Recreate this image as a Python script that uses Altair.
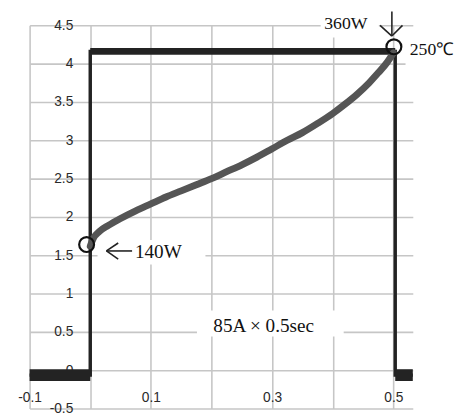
import altair as alt
import pandas as pd

# ---- data ----
# black step trace
step_x = [-0.1, 0.0, 0.0, 0.503, 0.503, 0.532]
step_y = [-0.064, -0.064, 4.16, 4.16, -0.064, -0.064]

# noisy plateaus of the black trace (drawn thicker)
low_x = [-0.1, 0.503]
low_x2 = [0.0, 0.532]
low_y = [-0.064, -0.064]
top_x = [0.0]
top_x2 = [0.503]
top_y = [4.16]

# gray curve
curve_x = [0.0, 0.005, 0.015, 0.03, 0.05, 0.075, 0.1, 0.125, 0.15, 0.175, 0.2,
           0.225, 0.25, 0.275, 0.3, 0.325, 0.35, 0.375, 0.4, 0.42, 0.44, 0.46,
           0.475, 0.49, 0.5]
curve_y = [1.62, 1.72, 1.81, 1.89, 1.98, 2.08, 2.17, 2.26, 2.34, 2.42, 2.50,
           2.59, 2.68, 2.78, 2.89, 3.00, 3.10, 3.22, 3.35, 3.47, 3.60, 3.75,
           3.88, 4.02, 4.14]

# annotation circles
circ_x = [-0.006, 0.5008]
circ_y = [1.64, 4.22]

# annotation texts (upper labels / lower labels)
ann_top_text = ["360W", "250℃"]
ann_top_x = [0.386, 0.527]
ann_top_y = [4.51, 4.18]
ann_low_text = ["140W", "85A × 0.5sec"]
ann_low_x = [0.0737, 0.203]
ann_low_y = [1.543, 0.577]

# white label boxes (hide gridlines behind labels)
box_x = [0.380, 0.52, 0.012, 0.176]
box_x2 = [0.476, 0.60, 0.19, 0.418]
box_y = [4.34, 3.97, 1.38, 0.44]
box_y2 = [4.66, 4.30, 1.70, 0.78]

# arrow segments
arr_x = [0.4975, 0.478, 0.515, 0.0267, 0.0267, 0.0267]
arr_y = [4.68, 4.50, 4.50, 1.556, 1.556, 1.556]
arr_x2 = [0.4975, 0.4975, 0.4975, 0.069, 0.0461, 0.0461]
arr_y2 = [4.36, 4.36, 4.36, 1.556, 1.66, 1.45]

# tick values
x_ticks = [-0.1, 0.0, 0.1, 0.2, 0.3, 0.4, 0.5]
y_ticks = [-0.5, 0.0, 0.5, 1.0, 1.5, 2.0, 2.5, 3.0, 3.5, 4.0, 4.5]

# ---- chart ----
xs = alt.Scale(domain=[-0.1, 0.532], nice=False, zero=False)
ys = alt.Scale(domain=[-0.5, 4.5], nice=False, zero=False)

LABEL = dict(labelFont="Liberation Sans", labelFontSize=14, labelColor="#2a2a2a",
             gridColor="#c6c6c6", gridWidth=1.6)

xaxis = alt.Axis(
    values=x_ticks, title=None, grid=True, domain=False, ticks=False,
    labelPadding=0, offset=-18, labelFlush=False, labelOverlap=False,
    labelExpr="abs(round(datum.value*10)) % 2 == 1 ? (datum.value < 0 ? '-' : '') + format(abs(datum.value), '.1f') : ''",
    **LABEL,
)
yaxis = alt.Axis(
    values=y_ticks, title=None, grid=True, domain=False, ticks=False,
    labelPadding=0, offset=-44, labelOverlap=False,
    labelExpr="(datum.value < 0 ? '-' : '') + format(abs(datum.value), '~g')",
    **LABEL,
)


def X(f="x"):
    return alt.X(f, type="quantitative", scale=xs, axis=xaxis)


def Y(f="y"):
    return alt.Y(f, type="quantitative", scale=ys, axis=yaxis)


boxes = alt.Chart(pd.DataFrame({"x": box_x, "x2": box_x2, "y": box_y, "y2": box_y2})).mark_rect(
    color="white"
).encode(x=X(), x2="x2", y=Y(), y2="y2")

step = alt.Chart(pd.DataFrame({"x": step_x, "y": step_y, "i": list(range(len(step_x)))})).mark_line(
    color="#232323", strokeWidth=3.5
).encode(x=X(), y=Y(), order="i")

low = alt.Chart(pd.DataFrame({"x": low_x, "x2": low_x2, "y": low_y})).mark_rule(
    color="#232323", strokeWidth=12
).encode(x=X(), x2="x2", y=Y())

top = alt.Chart(pd.DataFrame({"x": top_x, "x2": top_x2, "y": top_y})).mark_rule(
    color="#232323", strokeWidth=7
).encode(x=X(), x2="x2", y=Y())

curve = alt.Chart(pd.DataFrame({"x": curve_x, "y": curve_y, "i": list(range(len(curve_x)))})).mark_line(
    color="#555555", strokeWidth=7, strokeCap="round", interpolate="monotone"
).encode(x=X(), y=Y(), order="i")

circles = alt.Chart(pd.DataFrame({"x": circ_x, "y": circ_y})).mark_point(
    shape="circle", filled=False, size=230, color="#111111", strokeWidth=2.2, opacity=1
).encode(x=X(), y=Y())

arrows = alt.Chart(pd.DataFrame({"x": arr_x, "y": arr_y, "x2": arr_x2, "y2": arr_y2})).mark_rule(
    color="#222222", strokeWidth=1.6
).encode(x=X(), y=Y(), x2="x2", y2="y2")

texts_top = alt.Chart(pd.DataFrame({"x": ann_top_x, "y": ann_top_y, "t": ann_top_text})).mark_text(
    align="left", baseline="middle", font="Liberation Serif", fontSize=18, color="#111111"
).encode(x=X(), y=Y(), text="t")

texts_low = alt.Chart(pd.DataFrame({"x": ann_low_x, "y": ann_low_y, "t": ann_low_text})).mark_text(
    align="left", baseline="middle", font="Liberation Serif", fontSize=19.5, color="#111111"
).encode(x=X(), y=Y(), text="t")

chart = alt.layer(boxes, step, low, top, curve, circles, arrows, texts_top, texts_low).properties(
    width=390, height=390,
    autosize=alt.AutoSizeParams(type="none"),
    padding={"left": 22, "top": 14, "right": 46, "bottom": 6},
).configure_view(stroke=None)

chart.save("out.html", embed_options={"renderer": "svg", "actions": False})
